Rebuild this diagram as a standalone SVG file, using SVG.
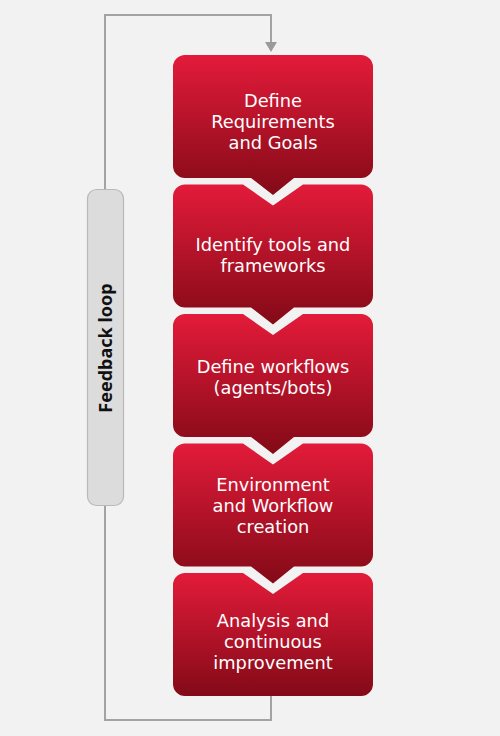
<svg xmlns="http://www.w3.org/2000/svg" width="500" height="736" viewBox="0 0 500 736">
<defs>
<linearGradient id="red" x1="0" y1="0" x2="0" y2="1">
<stop offset="0" stop-color="#e31b3a"/>
<stop offset="1" stop-color="#830a17"/>
</linearGradient>
<style>
.lbl{font-family:"DejaVu Sans","Noto Sans","Liberation Sans",sans-serif;font-size:17.8px;fill:#ffffff;text-anchor:middle}
.fb{font-family:"Noto Sans","Liberation Sans",sans-serif;font-size:18px;font-weight:bold;fill:#111111;text-anchor:middle}
.conn{fill:none;stroke:#a3a3a3;stroke-width:2}
</style>
</defs>
<rect width="500" height="736" fill="#f2f2f2"/>
<g id="connectors">
<path class="conn" d="M105,189 V15 H271 V43"/>
<path d="M265,42 L277,42 L271,52 Z" fill="#9a9a9a"/>
<path class="conn" d="M271,696 V720 H105 V506"/>
</g>
<g id="feedback">
<rect x="87.5" y="189.5" width="36" height="316" rx="9" fill="#dcdcdc" stroke="#b9b9b9" stroke-width="1.2"/>
<text class="fb" transform="translate(112,348) rotate(-90)">Feedback loop</text>
</g>
<g id="n1">
<path d="M185,55 H361 A12,12 0 0 1 373,67 V166 A12,12 0 0 1 361,178 H294 L273,195 L251,178 H185 A12,12 0 0 1 173,166 V67 A12,12 0 0 1 185,55 Z" fill="url(#red)"/>
<text class="lbl" x="273" y="107">Define<tspan x="273" dy="21">Requirements</tspan><tspan x="273" dy="21">and Goals</tspan></text>
</g>
<g id="n2">
<path d="M185,184.5 H243 L273,205.5 L303,184.5 H361 A12,12 0 0 1 373,196.5 V295.5 A12,12 0 0 1 361,307.5 H294 L273,324.5 L251,307.5 H185 A12,12 0 0 1 173,295.5 V196.5 A12,12 0 0 1 185,184.5 Z" fill="url(#red)"/>
<text class="lbl" x="273" y="251">Identify tools and<tspan x="273" dy="21">frameworks</tspan></text>
</g>
<g id="n3">
<path d="M185,314 H243 L273,335 L303,314 H361 A12,12 0 0 1 373,326 V425 A12,12 0 0 1 361,437 H294 L273,454 L251,437 H185 A12,12 0 0 1 173,425 V326 A12,12 0 0 1 185,314 Z" fill="url(#red)"/>
<text class="lbl" x="273" y="373">Define workflows<tspan x="273" dy="21">(agents/bots)</tspan></text>
</g>
<g id="n4">
<path d="M185,443.5 H243 L273,464.5 L303,443.5 H361 A12,12 0 0 1 373,455.5 V554.5 A12,12 0 0 1 361,566.5 H294 L273,583.5 L251,566.5 H185 A12,12 0 0 1 173,554.5 V455.5 A12,12 0 0 1 185,443.5 Z" fill="url(#red)"/>
<text class="lbl" x="273" y="491">Environment<tspan x="273" dy="21">and Workflow</tspan><tspan x="273" dy="21">creation</tspan></text>
</g>
<g id="n5">
<path d="M185,573 H243 L273,594 L303,573 H361 A12,12 0 0 1 373,585 V684 A12,12 0 0 1 361,696 H185 A12,12 0 0 1 173,684 V585 A12,12 0 0 1 185,573 Z" fill="url(#red)"/>
<text class="lbl" x="273" y="627">Analysis and<tspan x="273" dy="21">continuous</tspan><tspan x="273" dy="21">improvement</tspan></text>
</g>
</svg>
